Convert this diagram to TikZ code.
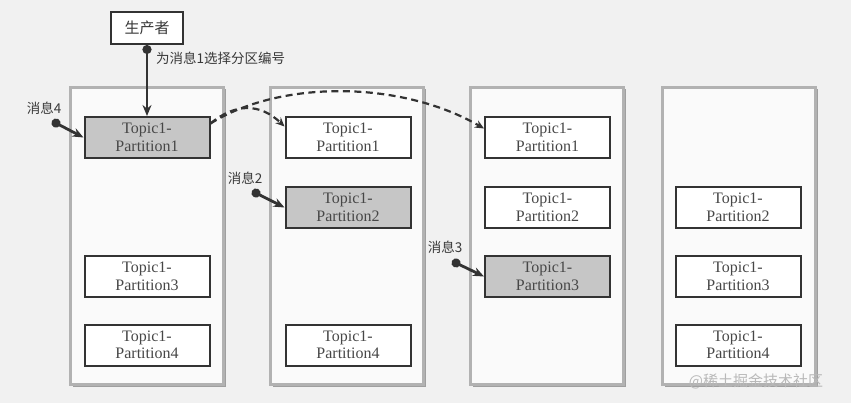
\documentclass[tikz,border=0pt]{standalone}
\usepackage{fontspec}
\setmainfont{Liberation Serif}
\newfontfamily\cjk{Noto Sans CJK SC}
\usetikzlibrary{arrows.meta,shadows}
\definecolor{bggray}{HTML}{F1F1F1}
\definecolor{inkgray}{HTML}{333333}
\tikzset{
  broker/.style={draw=gray!60, line width=2.4pt, fill=white!96!gray,
    minimum width=153pt, minimum height=297pt,
    drop shadow={shadow xshift=2pt,shadow yshift=-2pt,fill=gray!75,opacity=1}},
  part/.style={draw=inkgray, line width=2pt, fill=white, align=center,
    minimum width=125pt, minimum height=41pt, inner sep=0pt,
    font=\fontsize{16}{17.5}\selectfont, text=black!72},
  partfull/.style={part, fill=gray!45},
  msg/.style={font=\cjk\fontsize{13.5}{13.5}\selectfont, inner sep=0pt, text=black!78},
  msgarrow/.style={draw=inkgray, line width=2.8pt,
    {Circle[length=9pt]}-{Stealth[length=11pt,width=9pt]}},
  hop/.style={draw=inkgray, line width=2.2pt, dash pattern=on 7pt off 4.5pt,
    -{Stealth[length=9pt,width=8pt]}},
}
\begin{document}
\begin{tikzpicture}[x=1pt,y=-1pt]
  \fill[bggray] (0,0) rectangle (851,403);
  \useasboundingbox (0,0) rectangle (851,403);

  % brokers
  \node[broker] (b1) at (147,236) {};
  \node[broker] (b2) at (347,236) {};
  \node[broker] (b3) at (547,236) {};
  \node[broker] (b4) at (739,236) {};

  % broker 1
  \node[partfull] (p11) at (147,137.5) {Topic1-\\Partition1};
  \node[part] (p13) at (147,276.5) {Topic1-\\Partition3};
  \node[part] (p14) at (147,345) {Topic1-\\Partition4};

  % broker 2
  \node[part] (p21) at (348,137.5) {Topic1-\\Partition1};
  \node[partfull] (p22) at (348,207.5) {Topic1-\\Partition2};
  \node[part] (p24) at (348,345) {Topic1-\\Partition4};

  % broker 3
  \node[part] (p31) at (547.5,137.5) {Topic1-\\Partition1};
  \node[part] (p32) at (547.5,207.5) {Topic1-\\Partition2};
  \node[partfull] (p33) at (547.5,276.5) {Topic1-\\Partition3};

  % broker 4
  \node[part] (p42) at (738,207.5) {Topic1-\\Partition2};
  \node[part] (p43) at (738,276.5) {Topic1-\\Partition3};
  \node[part] (p44) at (738,345) {Topic1-\\Partition4};

  % producer
  \node[draw=inkgray, line width=2pt, fill=white, minimum width=72pt,
    minimum height=32pt, font=\cjk\fontsize{15}{15}\selectfont, text=black!78] (prod) at (147,28) {生产者};
  \draw[msgarrow] (prod.south) -- (p11.north);
  \node[msg, anchor=west] (choose) at (156,58) {为消息1选择分区编号};

  % replicas
  \draw[hop] ([yshift=14pt]p11.east) .. controls (235,103) and (260,103) .. ([yshift=11pt]p21.west);
  \draw[hop] ([yshift=14pt]p11.east) .. controls (280,80) and (400,80) .. ([yshift=9pt]p31.west);

  % messages
  \node[msg] (m4) at (44,108) {消息4};
  \coordinate (d4) at (52,121);
  \draw[msgarrow] (d4) -- (p11.west);
  \node[msg] (m2) at (245,178) {消息2};
  \coordinate (d2) at (252,191);
  \draw[msgarrow] (d2) -- (p22.west);
  \node[msg] (m3) at (445,247) {消息3};
  \coordinate (d3) at (452,261);
  \draw[msgarrow] (d3) -- (p33.west);

  % watermark
  \node[font=\cjk\fontsize{15}{15}\selectfont, text=gray!55, inner sep=0pt] (wm) at (756,381) {@稀土掘金技术社区};
\end{tikzpicture}
\end{document}
